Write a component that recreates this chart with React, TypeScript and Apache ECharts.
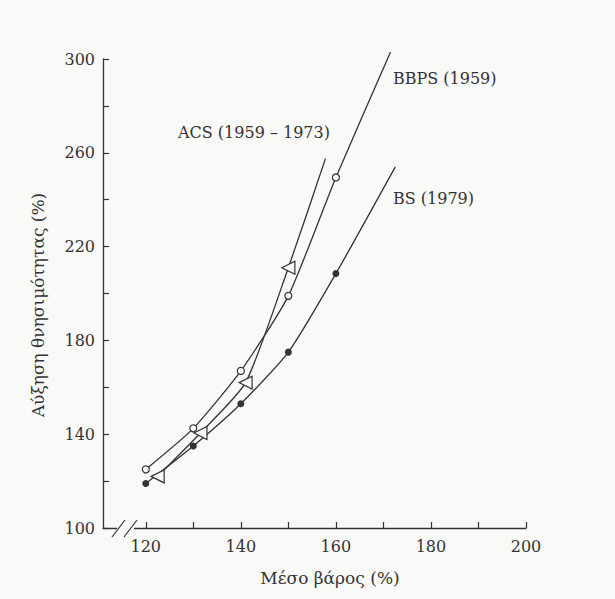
import React, { useEffect, useRef } from "react";
import * as echarts from "echarts";

const xTickValues = [120, 130, 140, 150, 160, 170, 180, 190, 200];
const xLabelValues = [120, 140, 160, 180, 200];
const yTickValues = [100, 120, 140, 160, 180, 200, 220, 240, 260, 280, 300];
const yLabelValues = [100, 140, 180, 220, 260, 300];

const bsX = [120, 130, 140, 150, 160];
const bsY = [119, 135, 153, 175, 208.5];
const bsEnd = [172.5, 254];

const bbpsX = [120, 130, 140, 150, 160];
const bbpsY = [125, 142.5, 167, 199, 249.5];
const bbpsEnd = [171.5, 303];

const acsX = [122.5, 131.5, 141, 150];
const acsY = [122, 140.5, 162, 211];
const acsEnd = [157.8, 257.5];

const seriesNames = ["BS (1979)", "BBPS (1959)", "ACS (1959 – 1973)"];
const xName = "Μέσο βάρος (%)";
const yName = "Αύξηση θνησιμότητας (%)";

const BG = "#f9f9f7";
const INK = "#333333";
const FONT = "DejaVu Serif";

function build(xs: number[], ys: number[], end: number[]) {
  const d: any[] = xs.map((x, i) => [x, ys[i]]);
  d.push({ value: end, symbol: "none" });
  return d;
}

export default function App() {
  const ref = useRef<HTMLDivElement>(null);
  useEffect(() => {
    if (!ref.current) return;
    const chart = echarts.init(ref.current, null, { renderer: "svg" });
    const lineCommon = {
      type: "line",
      smooth: 0.2,
      clip: false,
      lineStyle: { color: INK, width: 1.3 },
    };
    chart.setOption({
      animation: false,
      backgroundColor: BG,
      grid: { left: 103, right: 89, top: 59, bottom: 71 },
      xAxis: {
        type: "value",
        min: 111,
        max: 200,
        axisLine: { lineStyle: { color: INK, width: 1.3 } },
        axisTick: { inside: true, length: 6, customValues: xTickValues, lineStyle: { color: INK, width: 1.2 } },
        axisLabel: { customValues: xLabelValues, color: INK, fontFamily: FONT, fontSize: 16, margin: 10 },
        splitLine: { show: false },
      },
      yAxis: {
        type: "value",
        min: 100,
        max: 300,
        axisLine: { show: true, lineStyle: { color: INK, width: 1.3 } },
        axisTick: { show: true, inside: true, length: 6, customValues: yTickValues, lineStyle: { color: INK, width: 1.2 } },
        axisLabel: { customValues: yLabelValues, color: INK, fontFamily: FONT, fontSize: 16, margin: 8 },
        splitLine: { show: false },
      },
      series: [
        {
          ...lineCommon,
          name: seriesNames[0],
          data: build(bsX, bsY, bsEnd),
          symbol: "circle",
          symbolSize: 7,
          itemStyle: { color: INK },
        },
        {
          ...lineCommon,
          name: seriesNames[1],
          data: build(bbpsX, bbpsY, bbpsEnd),
          symbol: "circle",
          symbolSize: 7,
          itemStyle: { color: BG, borderColor: INK, borderWidth: 1.2 },
        },
        {
          ...lineCommon,
          name: seriesNames[2],
          data: build(acsX, acsY, acsEnd),
          symbol: "triangle",
          symbolRotate: 90,
          symbolSize: 13,
          itemStyle: { color: BG, borderColor: INK, borderWidth: 1.2 },
        },
      ],
      graphic: [
        { type: "rect", shape: { x: 117, y: 524, width: 17, height: 8 }, style: { fill: BG }, z: 100 },
        { type: "line", shape: { x1: 112, y1: 537, x2: 125, y2: 520 }, style: { stroke: INK, lineWidth: 1.2 }, z: 101 },
        { type: "line", shape: { x1: 124, y1: 537, x2: 137, y2: 520 }, style: { stroke: INK, lineWidth: 1.2 }, z: 101 },
        {
          type: "text", x: 393, y: 78,
          style: { text: seriesNames[1], font: `16px "${FONT}"`, fill: INK, verticalAlign: "middle" },
        },
        {
          type: "text", x: 393, y: 198,
          style: { text: seriesNames[0], font: `16px "${FONT}"`, fill: INK, verticalAlign: "middle" },
        },
        {
          type: "text", x: 178, y: 132,
          style: { text: seriesNames[2], font: `16px "${FONT}"`, fill: INK, verticalAlign: "middle" },
        },
        {
          type: "text", x: 330, y: 578,
          style: { text: xName, font: `17px "${FONT}"`, fill: INK, align: "center", verticalAlign: "middle" },
        },
        {
          type: "text", x: 38, y: 305, rotation: Math.PI / 2,
          style: { text: yName, font: `17px "${FONT}"`, fill: INK, align: "center", verticalAlign: "middle" },
        },
      ],
    });
    return () => chart.dispose();
  }, []);
  return (
    <div
      ref={ref}
      style={{ position: "absolute", left: 0, top: 0, width: 615, height: 599 }}
    />
  );
}
